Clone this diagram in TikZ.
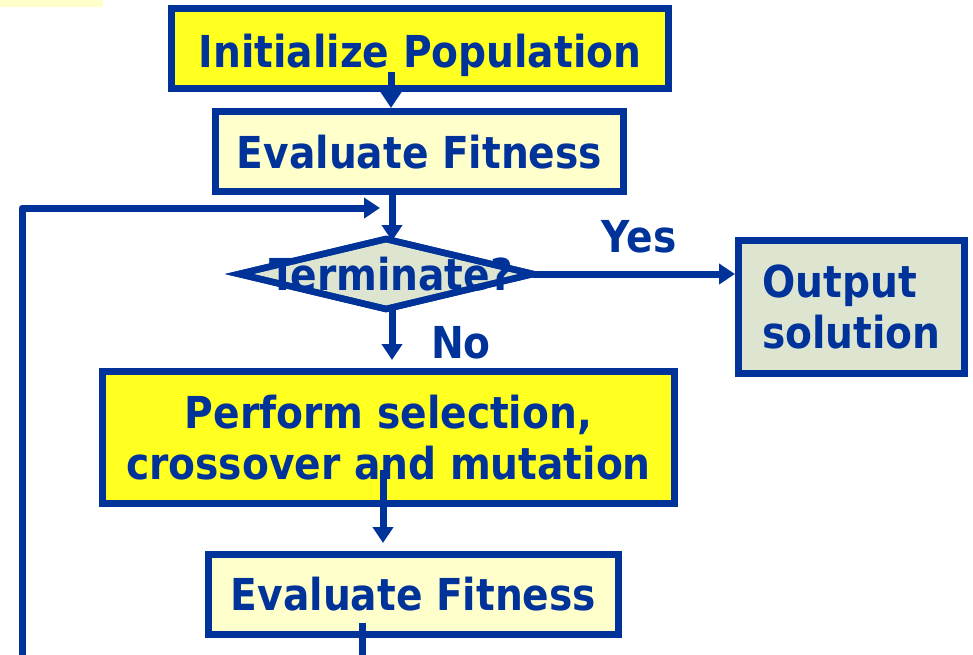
\documentclass[tikz,border=0pt]{standalone}
\usepackage{fontspec}
\usetikzlibrary{arrows.meta,shapes.geometric}
\newfontfamily\flowfont[FakeStretch=0.89]{DejaVu Sans}
\definecolor{flowblue}{RGB}{0,51,153}
\definecolor{boxyellow}{RGB}{255,255,32}
\definecolor{paleyellow}{RGB}{255,255,204}
\definecolor{sage}{RGB}{221,229,209}

\begin{document}
\begin{tikzpicture}[x=1pt,y=-1pt,
  every node/.style={text=flowblue,
    font=\flowfont\bfseries\fontsize{44}{51}\selectfont},
  box/.style={rectangle, draw=flowblue, line width=7pt, inner sep=0pt},
  oneline/.style={text height=#1, text depth=0pt},
  decision/.style={diamond, draw=flowblue, fill=sage, line width=6.5pt,
    minimum width=294pt, minimum height=70pt, inner sep=0pt, outer sep=0pt,
    text height=32pt, text depth=0pt},
  flow/.style={draw=flowblue, line width=7pt,
    -{Triangle[length=16pt,width=20pt]}},
  loopline/.style={draw=flowblue, line width=7pt, line join=round,
    -{Triangle[length=16pt,width=20pt]}},
]
\useasboundingbox (0,0) rectangle (973,654);
\clip (0,0) rectangle (973,654);

% small strip in the upper left corner
\fill[paleyellow] (0,0) rectangle (103,7);

% process boxes
\node[box, oneline=37pt, fill=boxyellow, minimum width=497pt, minimum height=80pt]
  (init) at (420,48.5) {Initialize Population};
\node[box, oneline=33pt, fill=paleyellow, minimum width=408pt, minimum height=80pt]
  (eval1) at (419.5,151.5) {Evaluate Fitness};
\node[decision] (term) at (386,274) {\makebox[0pt]{\hspace*{10pt}Terminate?}};
\draw[flowblue, line width=6.5pt]
  (term.north) -- (term.east) -- (term.south) -- (term.west) -- cycle;
\node[box, fill=sage, align=left, minimum width=226pt, minimum height=133pt]
  (output) at (851.5,307) {Output\\solution};
\node[box, fill=boxyellow, align=center, minimum width=572pt, minimum height=132pt]
  (select) at (388.5,437.5) {Perform selection,\\crossover and mutation};
\node[box, oneline=31pt, fill=paleyellow, minimum width=410pt, minimum height=80pt]
  (eval2) at (413.5,594.5) {Evaluate Fitness};

% branch labels
\node[anchor=base] (yes) at (639,252) {Yes};
\node[anchor=base] (no) at (461,358) {No};

% connectors
\coordinate (spine) at (392,0);
\coordinate (initout) at (391,72);
\coordinate (noend) at (392,360);
\coordinate (selout) at (383,470);
\coordinate (fitin) at (383,543);
\coordinate (fitout) at (362,623);
\coordinate (loopend) at (380,208);
\coordinate (lowright) at (362,700);
\coordinate (lowleft) at (22,700);
\coordinate (upleft) at (22,208);

\draw[flow] (initout) -- (initout |- eval1.north);
\draw[flow] (eval1.south -| spine) -- ([yshift=-2pt]term.north -| spine);
\draw[flow] (term.east) -- (term.east -| output.west);
\draw[flow] ([yshift=2pt]term.south -| spine) -- (noend);
\draw[flow] (selout) -- (fitin);
\draw[loopline] (fitout) -- (lowright) -- (lowleft) -- (upleft) -- (loopend);
\end{tikzpicture}
\end{document}
